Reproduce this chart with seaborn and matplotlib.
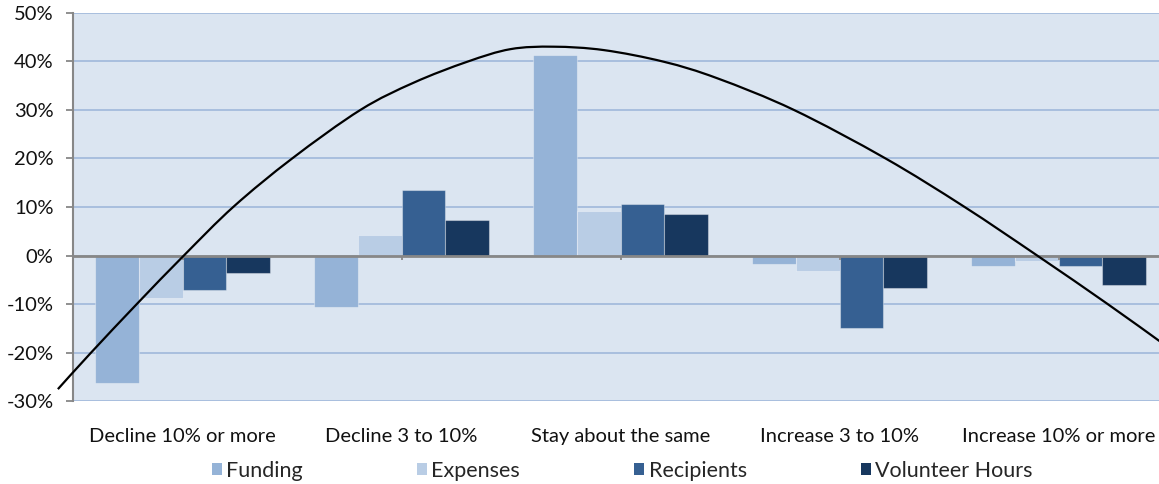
import matplotlib
matplotlib.use("Agg")
import matplotlib.pyplot as plt
import seaborn as sns
import pandas as pd
from matplotlib.patches import Patch, PathPatch
from matplotlib.path import Path
from matplotlib.ticker import FuncFormatter, MultipleLocator

# Expected change, share of respondents (%)
categories = ["Decline 10% or more", "Decline 3 to 10%", "Stay about the same",
              "Increase 3 to 10%", "Increase 10% or more"]
series = ["Funding", "Expenses", "Recipients", "Volunteer Hours"]
funding = [-26.3, -10.5, 41.2, -1.8, -2.2]
expenses = [-8.8, 4.3, 9.2, -3.2, -1.2]
recipients = [-7.1, 13.6, 10.6, -14.9, -2.2]
volunteer_hours = [-3.6, 7.4, 8.5, -6.6, -6.0]
colors = ["#95b3d7", "#b9cde5", "#366092", "#17375e"]

# Hand-drawn trend arc (category position, %)
arc_x = [-0.569, -0.420, -0.207, 0.006, 0.234, 0.501, 0.813,
         1.056, 1.300, 1.498, 1.695, 1.924, 2.198, 2.442, 2.791,
         3.210, 3.568, 3.903, 4.222, 4.461]
arc_y = [-27.5, -20.1, -9.9, 0.0, 10.1, 20.0, 30.0,
         35.6, 39.9, 42.5, 43.0, 42.3, 39.9, 36.5, 30.0,
         20.0, 10.1, 0.0, -9.9, -17.6]

df = pd.DataFrame({
    "category": categories * 4,
    "series": sum([[s] * 5 for s in series], []),
    "value": funding + expenses + recipients + volunteer_hours,
})


def smooth_path(xs, ys):
    """Cubic Bezier path through the given points (Catmull-Rom tangents)."""
    pts = list(zip(xs, ys))
    verts = [pts[0]]
    codes = [Path.MOVETO]
    n = len(pts)
    for i in range(n - 1):
        p0 = pts[i - 1] if i > 0 else pts[i]
        p1 = pts[i]
        p2 = pts[i + 1]
        p3 = pts[i + 2] if i + 2 < n else pts[i + 1]
        c1 = (p1[0] + (p2[0] - p0[0]) / 6, p1[1] + (p2[1] - p0[1]) / 6)
        c2 = (p2[0] - (p3[0] - p1[0]) / 6, p2[1] - (p3[1] - p1[1]) / 6)
        verts += [c1, c2, p2]
        codes += [Path.CURVE4] * 3
    return Path(verts, codes)


sns.set_theme(style="white")
plt.rcParams["font.family"] = ["Lato", "DejaVu Sans"]

fig = plt.figure(figsize=(11.59, 4.84), dpi=100)
ax = fig.add_axes([73 / 1159, 1 - 401.3 / 484, (1168 - 73) / 1159, (401.3 - 12.7) / 484])
ax.set_facecolor("#dbe5f1")

sns.barplot(data=df, x="category", y="value", hue="series", order=categories,
            hue_order=series, palette=colors, saturation=1, width=0.8, gap=0,
            edgecolor=(1, 1, 1, 0.35), linewidth=0.8, errorbar=None,
            legend=False, ax=ax, zorder=2)

ax.set_xlim(-0.5, 4.5)
ax.set_ylim(-30, 50)
ax.yaxis.set_major_locator(MultipleLocator(10))
ax.yaxis.set_major_formatter(FuncFormatter(lambda v, p: f"{v:.0f}%"))
ax.grid(axis="y", color="#a4bcdc", linewidth=1.3, zorder=0)
ax.set_axisbelow(True)

# Horizontal axis line at zero with small ticks at category centres
ax.axhline(0, color="#878787", linewidth=2, zorder=3)
ax.vlines(range(len(categories)), -0.9, 0, color="#878787", linewidth=1.3, zorder=3)

for side in ["top", "right", "bottom"]:
    ax.spines[side].set_visible(False)
ax.spines["left"].set_color("#878787")
ax.spines["left"].set_linewidth(1.5)

ax.tick_params(axis="y", which="major", left=True, length=5, width=1.3,
               color="#878787", pad=9, labelsize=14.5, labelcolor="#111111")
ax.tick_params(axis="x", length=0, pad=19, labelsize=14.5, labelcolor="#111111")
ax.set_xlabel("")
ax.set_ylabel("")

ax.add_patch(PathPatch(smooth_path(arc_x, arc_y), facecolor="none",
                       edgecolor="black", linewidth=1.6, zorder=5, clip_on=False))

handles = [Patch(facecolor=c, edgecolor="none") for c in colors]
fig.legend(handles, series, loc="center", bbox_to_anchor=(0.537, 0.027),
           ncol=4, frameon=False, fontsize=15.5, handlelength=0.47,
           handleheight=0.47, handletextpad=0.2, columnspacing=5.3,
           borderaxespad=0, borderpad=0)

fig.savefig("out.png", dpi=100)
